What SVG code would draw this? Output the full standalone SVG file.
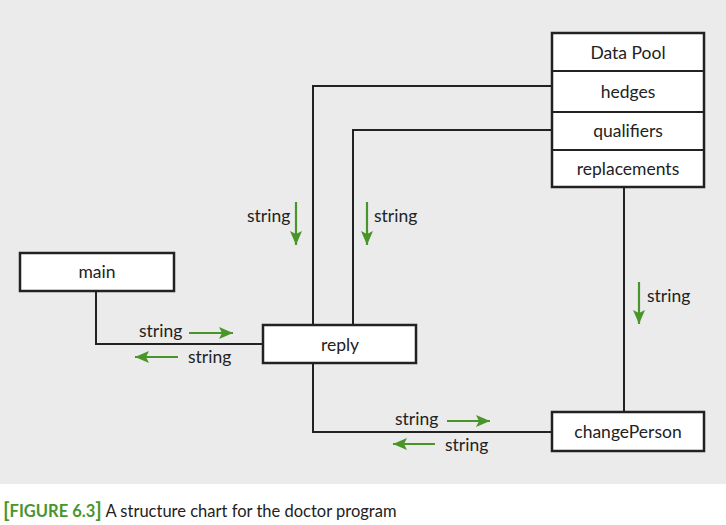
<svg xmlns="http://www.w3.org/2000/svg" width="726" height="525" viewBox="0 0 726 525">
<style>
.box{fill:#fff;stroke:#222;stroke-width:2.5}
.ln{fill:none;stroke:#222;stroke-width:2}
.ar{fill:none;stroke:#4a952a;stroke-width:2.2}
.t{font-family:Lato,"Open Sans",sans-serif;font-size:17.5px;fill:#222}
.c{text-anchor:middle}
.cap{font-family:Lato,"Open Sans",sans-serif;font-size:16.5px;fill:#222}
.fig{fill:#4a952a;font-weight:bold}
</style>
<defs>
<marker id="ah" viewBox="0 0 14 12" refX="14" refY="6" markerWidth="14" markerHeight="12" markerUnits="userSpaceOnUse" orient="auto">
<path d="M0,0 L14,6 L0,12 L3,6 Z" fill="#4a952a"/>
</marker>
</defs>
<rect x="0" y="0" width="726" height="484" fill="#ebebeb"/>
<g id="connectors">
<polyline class="ln" points="96,291 96,344 263,344"/>
<polyline class="ln" points="313,325 313,86 552,86"/>
<polyline class="ln" points="353,325 353,130 552,130"/>
<polyline class="ln" points="313,363 313,432 552,432"/>
<line class="ln" x1="624" y1="187" x2="624" y2="412"/>
<line class="ar" x1="296" y1="202" x2="296" y2="245" marker-end="url(#ah)"/>
<line class="ar" x1="367" y1="202" x2="367" y2="245" marker-end="url(#ah)"/>
<line class="ar" x1="639" y1="282" x2="639" y2="324" marker-end="url(#ah)"/>
<line class="ar" x1="189" y1="333" x2="233" y2="333" marker-end="url(#ah)"/>
<line class="ar" x1="178" y1="357" x2="135" y2="357" marker-end="url(#ah)"/>
<line class="ar" x1="447" y1="421" x2="490" y2="421" marker-end="url(#ah)"/>
<line class="ar" x1="435" y1="444" x2="393" y2="444" marker-end="url(#ah)"/>
<text class="t" x="247" y="222">string</text>
<text class="t" x="374" y="222">string</text>
<text class="t" x="647" y="302">string</text>
<text class="t" x="139" y="337">string</text>
<text class="t" x="188" y="363">string</text>
<text class="t" x="395" y="425">string</text>
<text class="t" x="445" y="451">string</text>
</g>
<g id="datapool">
<rect class="box" x="552" y="33" width="152" height="154"/>
<line class="ln" x1="552" y1="71" x2="704" y2="71"/>
<line class="ln" x1="552" y1="112" x2="704" y2="112"/>
<line class="ln" x1="552" y1="150" x2="704" y2="150"/>
<text class="t c" x="628" y="59">Data Pool</text>
<text class="t c" x="628" y="98">hedges</text>
<text class="t c" x="628" y="137">qualifiers</text>
<text class="t c" x="628" y="175">replacements</text>
</g>
<g id="main">
<rect class="box" x="20" y="253" width="154" height="38"/>
<text class="t c" x="97" y="278">main</text>
</g>
<g id="reply">
<rect class="box" x="263" y="325" width="153" height="38"/>
<text class="t c" x="340" y="351">reply</text>
</g>
<g id="changePerson">
<rect class="box" x="552" y="412" width="152" height="39"/>
<text class="t c" x="628" y="438">changePerson</text>
</g>
<text class="cap" x="3" y="517"><tspan class="fig" font-size="21">[</tspan><tspan class="fig">FIGURE 6.3</tspan><tspan class="fig" font-size="21">]</tspan> A structure chart for the doctor program</text>
</svg>
